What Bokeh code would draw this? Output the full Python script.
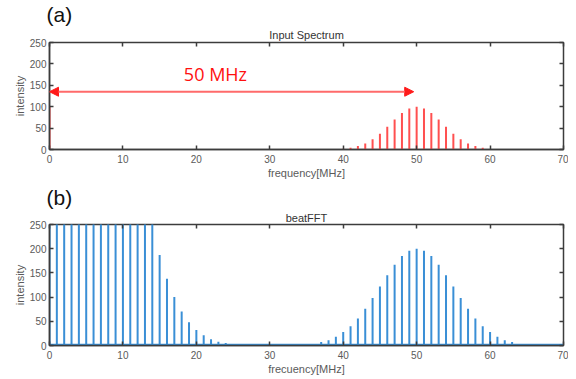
from bokeh.plotting import figure
from bokeh.layouts import column
from bokeh.models import (Range1d, FixedTicker, LinearAxis, Arrow,
                          NormalHead, Label, ColumnDataSource)
from bokeh.embed import file_html
from bokeh.resources import INLINE

# ---------------- data ----------------
# (a) input spectrum: comb lines (MHz) and intensities
in_freq = [0, 40, 41, 42, 43, 44, 45, 46, 47, 48, 49, 50,
           51, 52, 53, 54, 55, 56, 57, 58, 59, 60]
in_int = [100, 2, 4, 8, 14, 24, 37, 53, 70, 85, 96, 100,
          96, 85, 70, 53, 37, 24, 14, 8, 4, 1]

# (b) beat FFT: lines 0..64 MHz (0..14 exceed the 250 axis limit)
bt_freq = list(range(0, 65))
bt_int = [900, 800, 720, 650, 590, 540, 500, 460, 420, 390, 360, 330, 300, 275, 255,
          187, 138, 100, 70, 48, 32, 21, 13, 8, 5, 3, 2, 1, 1, 1,
          1, 1, 1, 1, 1, 1, 3, 7, 11, 18, 28, 40, 56, 76, 98,
          122, 145, 167, 185, 196, 200, 196, 185, 167, 145, 122, 98, 76, 56, 40,
          28, 18, 11, 7, 3]
bt_floor = 1.5  # small background level drawn across the FFT

x_ticks = [0, 10, 20, 30, 40, 50, 60, 70]
y_ticks = [0, 50, 100, 150, 200, 250]

arrow_y = 135
arrow_x0, arrow_x1 = 0, 49.6
ann_text = "50 MHz"
ann_x, ann_y = 22.6, 177

RED = "#ff5050"
BLUE = "#3a8fd6"
FRAME = "#3c3c3c"
LABEL = "#5a5a5a"


def make_fig(title, tag, xlabel, h, btop, bbot, title_gap):
    p = figure(width=568, height=h, x_range=Range1d(0, 70),
               y_range=Range1d(0, 250), output_backend="svg",
               toolbar_location=None, min_border_left=49, min_border_right=5,
               min_border_top=btop, min_border_bottom=bbot)
    p.grid.visible = False
    p.outline_line_color = FRAME
    p.outline_line_width = 1.5
    for ax in (p.xaxis[0], p.yaxis[0]):
        ax.axis_line_color = FRAME
        ax.axis_line_width = 1.5
        ax.major_tick_in = 4
        ax.major_tick_out = 0
        ax.major_tick_line_color = FRAME
        ax.major_tick_line_width = 1.5
        ax.minor_tick_line_color = None
        ax.major_label_text_font = "Liberation Sans"
        ax.major_label_text_font_size = "10px"
        ax.major_label_text_color = LABEL
        ax.axis_label_text_font = "Liberation Sans"
        ax.axis_label_text_font_size = "11px"
        ax.axis_label_text_font_style = "normal"
        ax.axis_label_text_color = LABEL
    p.xaxis[0].ticker = FixedTicker(ticks=x_ticks)
    p.yaxis[0].ticker = FixedTicker(ticks=y_ticks)
    p.xaxis[0].axis_label = xlabel
    p.xaxis[0].axis_label_standoff = 1
    p.xaxis[0].major_label_standoff = 5
    p.yaxis[0].axis_label = "intensity"
    p.yaxis[0].axis_label_standoff = 1
    p.yaxis[0].major_label_standoff = 3
    # mirrored inward ticks (MATLAB style); the top one carries the title
    for loc, tick in (("right", y_ticks), ("above", x_ticks)):
        ax = LinearAxis(ticker=FixedTicker(ticks=tick))
        ax.axis_line_color = None
        ax.major_tick_in = 4
        ax.major_tick_out = 0
        ax.major_tick_line_color = FRAME
        ax.major_tick_line_width = 1.5
        ax.minor_tick_line_color = None
        ax.major_label_overrides = {t: "" for t in tick}
        ax.major_label_text_font_size = "1px"
        ax.major_label_standoff = 0
        if loc == "above":
            ax.axis_label = title
            ax.axis_label_standoff = title_gap
            ax.axis_label_text_font = "Liberation Sans"
            ax.axis_label_text_font_size = "11px"
            ax.axis_label_text_font_style = "normal"
            ax.axis_label_text_color = "#333333"
        p.add_layout(ax, loc)
    p.title.text = tag
    p.title.align = "left"
    p.title.offset = -3
    p.title.text_font = "Liberation Sans"
    p.title.text_font_size = "21px"
    p.title.text_font_style = "normal"
    p.title.text_color = "#111111"
    p.title.standoff = 0
    return p


p1 = make_fig("Input Spectrum", "(a)", "frequency[MHz]", 181, 41, 31, 2)
src1 = ColumnDataSource(dict(x=in_freq, y=in_int, y0=[0] * len(in_freq)))
p1.segment(x0="x", y0="y0", x1="x", y1="y", source=src1,
           line_color=RED, line_width=2)
p1.add_layout(Arrow(start=NormalHead(size=9, fill_color="#ff1a1a", line_color="#ff1a1a"),
                    end=NormalHead(size=9, fill_color="#ff1a1a", line_color="#ff1a1a"),
                    x_start=arrow_x0, y_start=arrow_y, x_end=arrow_x1, y_end=arrow_y,
                    line_color="#ff6a6a", line_width=2))
p1.add_layout(Label(x=ann_x, y=ann_y, text=ann_text, text_align="center",
                    text_baseline="middle", text_font="Open Sans",
                    text_font_size="18px", text_color="#ff1010"))

p2 = make_fig("beatFFT", "(b)", "frecuency[MHz]", 197, 43, 33, 1)
src2 = ColumnDataSource(dict(x=bt_freq, y=bt_int, y0=[0] * len(bt_freq)))
p2.segment(x0="x", y0="y0", x1="x", y1="y", source=src2,
           line_color=BLUE, line_width=2)
p2.line(x=[0, 70], y=[bt_floor, bt_floor], line_color=BLUE, line_width=2)

layout = column(p1, p2, spacing=0)
open("out.html", "w").write(file_html(layout, INLINE))
